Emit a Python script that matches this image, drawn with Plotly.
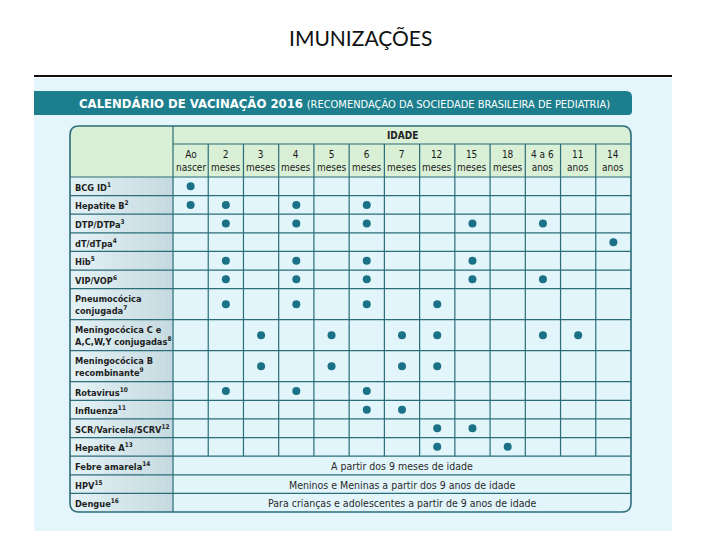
import plotly.graph_objects as go

# ---------------- data ----------------
age_labels = ["Ao<br>nascer", "2<br>meses", "3<br>meses", "4<br>meses", "5<br>meses",
              "6<br>meses", "7<br>meses", "12<br>meses", "15<br>meses", "18<br>meses",
              "4 a 6<br>anos", "11<br>anos", "14<br>anos"]
vaccines = ["BCG ID<sup>1</sup>", "Hepatite B<sup>2</sup>", "DTP/DTPa<sup>3</sup>",
            "dT/dTpa<sup>4</sup>", "Hib<sup>5</sup>", "VIP/VOP<sup>6</sup>",
            "Pneumocócica<br>conjugada<sup>7</sup>",
            "Meningocócica C e<br>A,C,W,Y conjugadas<sup>8</sup>",
            "Meningocócica B<br>recombinante<sup>9</sup>",
            "Rotavirus<sup>10</sup>", "Influenza<sup>11</sup>", "SCR/Varicela/SCRV<sup>12</sup>",
            "Hepatite A<sup>13</sup>", "Febre amarela<sup>14</sup>", "HPV<sup>15</sup>",
            "Dengue<sup>16</sup>"]
# index of the age columns with a dose, per vaccine
doses = [
    [0],
    [0, 1, 3, 5],
    [1, 3, 5, 8, 10],
    [12],
    [1, 3, 5, 8],
    [1, 3, 5, 8, 10],
    [1, 3, 5, 7],
    [2, 4, 6, 7, 10, 11],
    [2, 4, 6, 7],
    [1, 3, 5],
    [5, 6],
    [7, 8],
    [7, 9],
    [], [], [],
]
notes = ["", "", "", "", "", "", "", "", "", "", "", "", "",
         "A partir dos 9 meses de idade",
         "Meninos e Meninas a partir dos 9 anos de idade",
         "Para crianças e adolescentes a partir de 9 anos de idade"]
title_text = "IMUNIZAÇÕES"
banner_main = "CALENDÁRIO DE VACINAÇÃO 2016"
banner_sub = "(RECOMENDAÇÃO DA SOCIEDADE BRASILEIRA DE PEDIATRIA)"
header_text = "IDADE"

# ---------------- layout constants (pixels) ----------------
W, H = 720, 540
OFF = 8                                  # page body margin offset
TL, TR, TT, TB = 70, 631, 126, 512      # table box
LABEL_R = 173                            # right edge of label column
IDADE_B = 144
HEAD_B = 177
SINGLE, DOUBLE = 18.6, 31.0
LINE = "#2b6d78"
FONT = "DejaVu Sans Condensed, Liberation Sans Narrow, Roboto, sans-serif"

ncol = len(age_labels)
colw = (TR - LABEL_R) / ncol

# row boundaries from line counts
bounds = [HEAD_B]
for v in vaccines:
    bounds.append(bounds[-1] + (DOUBLE if "<br>" in v else SINGLE))
scale = (TB - HEAD_B) / (bounds[-1] - HEAD_B)
bounds = [HEAD_B + (b - HEAD_B) * scale for b in bounds]
centers = [(bounds[i] + bounds[i + 1]) / 2 for i in range(len(vaccines))]
last_grid_row = max(i for i, n in enumerate(notes) if n == "")


def rrect(x0, y0, x1, y1, tl=0, tr=0, br=0, bl=0):
    return (f"M{x0+tl},{y0} L{x1-tr},{y0} Q{x1},{y0} {x1},{y0+tr} "
            f"L{x1},{y1-br} Q{x1},{y1} {x1-br},{y1} L{x0+bl},{y1} "
            f"Q{x0},{y1} {x0},{y1-bl} L{x0},{y0+tl} Q{x0},{y0} {x0+tl},{y0} Z")


def mix(c1, c2, t):
    a = [int(c1[i:i + 2], 16) for i in (1, 3, 5)]
    b = [int(c2[i:i + 2], 16) for i in (1, 3, 5)]
    return "#" + "".join(f"{round(a[k] + (b[k] - a[k]) * t):02x}" for k in range(3))


shapes = []
# light panel
shapes.append(dict(type="rect", x0=34, x1=672, y0=78, y1=531, line_width=0, fillcolor="#e4f5fc", layer="below"))
# black rule
shapes.append(dict(type="line", x0=34, x1=672, y0=76, y1=76, line=dict(color="#111111", width=2)))
# banner
shapes.append(dict(type="path", path=rrect(34, 91, 632, 115, tr=6, br=4), fillcolor="#1d7f8e", line_width=0, layer="below"))
# table backgrounds
shapes.append(dict(type="path", path=rrect(TL, TT, TR, TB, 9, 9, 9, 9), fillcolor="#e2f5fb", line_width=0, layer="below"))
shapes.append(dict(type="path", path=rrect(TL, TT, TR, HEAD_B, 9, 9, 0, 0), fillcolor="#d9efd6", line_width=0, layer="below"))
# label column with a soft horizontal gradient
nstrip = 12
sw = (LABEL_R - TL) / nstrip
for k in range(nstrip):
    x0 = TL + k * sw
    x1 = x0 + sw + 0.4
    col = mix("#e3f1f5", "#c6dbe1", k / (nstrip - 1))
    if k == 0:
        shapes.append(dict(type="path", path=rrect(x0, HEAD_B, x1, TB, 0, 0, 0, 9), fillcolor=col, line_width=0, layer="below"))
    else:
        shapes.append(dict(type="rect", x0=x0, x1=x1, y0=HEAD_B, y1=TB, fillcolor=col, line_width=0, layer="below"))
# grid
lw = 1.2
shapes.append(dict(type="line", x0=LABEL_R, x1=TR, y0=IDADE_B, y1=IDADE_B, line=dict(color=LINE, width=lw)))
for b in bounds[:-1]:
    shapes.append(dict(type="line", x0=TL, x1=TR, y0=b, y1=b, line=dict(color=LINE, width=lw)))
shapes.append(dict(type="line", x0=LABEL_R, x1=LABEL_R, y0=TT, y1=TB, line=dict(color=LINE, width=lw)))
for j in range(1, ncol):
    x = LABEL_R + j * colw
    shapes.append(dict(type="line", x0=x, x1=x, y0=IDADE_B, y1=bounds[last_grid_row + 1], line=dict(color=LINE, width=lw)))
# outer border
shapes.append(dict(type="path", path=rrect(TL, TT, TR, TB, 9, 9, 9, 9), line=dict(color=LINE, width=1.6)))

annotations = []
annotations.append(dict(x=360, y=37, text=title_text, showarrow=False, xref="x", yref="y",
                        font=dict(family="Lato, Open Sans, sans-serif", size=21, color="#111111")))
annotations.append(dict(x=344, y=103, showarrow=False, xref="x", yref="y",
                        text=f"<b>{banner_main}</b> <span style='font-size:11px'>{banner_sub}</span>",
                        font=dict(family=FONT, size=13, color="white")))
annotations.append(dict(x=(LABEL_R + TR) / 2, y=(TT + IDADE_B) / 2 + 0.5, text=f"<b>{header_text}</b>",
                        showarrow=False, xref="x", yref="y", font=dict(family=FONT, size=10, color="#222222")))
for j, lab in enumerate(age_labels):
    annotations.append(dict(x=LABEL_R + (j + 0.5) * colw, y=(IDADE_B + HEAD_B) / 2 + 0.5, text=lab,
                            showarrow=False, xref="x", yref="y",
                            font=dict(family=FONT, size=10, color="#1a1a1a")))
for i, v in enumerate(vaccines):
    annotations.append(dict(x=TL + 3, y=centers[i] + 0.5, text=f"<b>{v}</b>", xanchor="left", align="left",
                            showarrow=False, xref="x", yref="y",
                            font=dict(family=FONT, size=9.2, color="#1e1e1e")))
    if notes[i]:
        annotations.append(dict(x=(LABEL_R + TR) / 2, y=centers[i] + 0.5, text=notes[i],
                                showarrow=False, xref="x", yref="y",
                                font=dict(family=FONT, size=10.5, color="#2a2a2a")))

# dots through a categorical age axis
dx, dy = [], []
for i, cols in enumerate(doses):
    for c in cols:
        dx.append(age_labels[c])
        dy.append(centers[i])

fig = go.Figure()
fig.add_trace(go.Scatter(x=dx, y=dy, xaxis="x2", yaxis="y", mode="markers",
                         marker=dict(size=8, color="#1b7185", line_width=0),
                         hoverinfo="skip", showlegend=False))
fig.update_layout(
    width=W, height=H, margin=dict(l=0, r=0, t=0, b=0),
    paper_bgcolor="white", plot_bgcolor="rgba(0,0,0,0)",
    xaxis=dict(range=[OFF, W + OFF], visible=False, fixedrange=True),
    yaxis=dict(range=[H + OFF, OFF], visible=False, fixedrange=True),
    xaxis2=dict(type="category", categoryorder="array", categoryarray=age_labels,
                range=[-0.5, ncol - 0.5], domain=[(LABEL_R - OFF) / W, (TR - OFF) / W], anchor="y",
                visible=False, fixedrange=True),
    shapes=shapes, annotations=annotations,
)
fig.write_html("out.html")
